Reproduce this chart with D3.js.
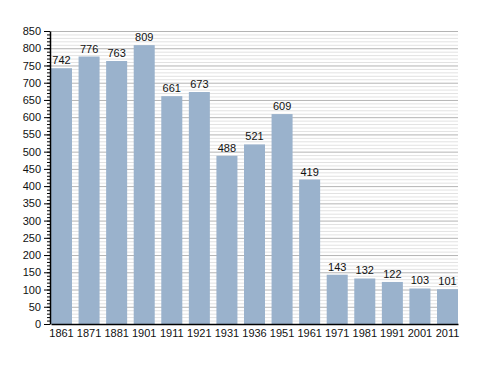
<!DOCTYPE html>
<html>
<head>
<meta charset="utf-8">
<script src="https://cdn.jsdelivr.net/npm/d3@7"></script>
<style>
body { margin: 0; background: #fff; }
svg { display: block; font-family: "Liberation Sans", Arial, sans-serif; }
</style>
</head>
<body>
<div id="chart"></div>
<script>
var years = ["1861", "1871", "1881", "1901", "1911", "1921", "1931", "1936", "1951", "1961", "1971", "1981", "1991", "2001", "2011"];
var population = [742, 776, 763, 809, 661, 673, 488, 521, 609, 419, 143, 132, 122, 103, 101];
var yTicks = d3.range(0, 851, 50);

var margin = { top: 31, right: 30, bottom: 49, left: 50 },
    width = 488 - margin.left - margin.right,
    height = 373 - margin.top - margin.bottom;

var svg = d3.select("#chart")
    .append("svg")
    .attr("width", 488)
    .attr("height", 373)
    .append("g")
    .attr("transform", `translate(${margin.left},${margin.top})`);

var x = d3.scaleBand()
    .domain(years)
    .range([1, width])
    .paddingInner(0.238)
    .paddingOuter(0);

var y = d3.scaleLinear()
    .domain([0, 850])
    .range([height, 0]);

// minor grid every 10
svg.append("g")
    .selectAll("line")
    .data(d3.range(10, 851, 10).filter(function (d) { return d % 50 != 0; }))
    .enter().append("line")
    .attr("x1", 0).attr("x2", width)
    .attr("y1", function (d) { return y(d) + 0.5; })
    .attr("y2", function (d) { return y(d) + 0.5; })
    .attr("stroke", "#e2e2e2");

// major grid every 50
svg.append("g")
    .selectAll("line")
    .data(yTicks.slice(1))
    .enter().append("line")
    .attr("x1", 0).attr("x2", width)
    .attr("y1", function (d) { return y(d) + 0.5; })
    .attr("y2", function (d) { return y(d) + 0.5; })
    .attr("stroke", "#b4b4b4");

// Bars
var bar = svg.selectAll(".bar")
    .data(population)
    .enter()
    .append("g");

bar.append("rect")
    .attr("x", function (d, i) { return x(years[i]); })
    .attr("width", x.bandwidth())
    .attr("y", function (d) { return y(d); })
    .attr("height", function (d) { return height - y(d); })
    .style("fill", "#9ab2cc");

bar.append("text")
    .attr("x", function (d, i) { return x(years[i]) + x.bandwidth() / 2; })
    .attr("y", function (d) { return y(d) - 4; })
    .attr("text-anchor", "middle")
    .style("font-size", "11px")
    .style("fill", "#111")
    .text(function (d) { return d; });

// Y axis, minor ticks then major
svg.append("g")
    .call(d3.axisLeft(y).tickValues(d3.range(0, 851, 10)).tickSize(3).tickFormat(""))
    .call(function (g) { g.select(".domain").remove(); })
    .selectAll("line").attr("stroke", "#000");

svg.append("g")
    .call(d3.axisLeft(y).tickValues(yTicks).tickSize(6).tickSizeOuter(0).tickPadding(3))
    .call(function (g) {
        g.selectAll("text").style("font-size", "11px").style("fill", "#111");
        g.select(".domain").attr("stroke", "#000").attr("stroke-width", 1.5);
    });

// X axis
svg.append("g")
    .attr("transform", `translate(0,${height})`)
    .call(d3.axisBottom(x).tickSize(0).tickSizeOuter(0).tickPadding(5))
    .call(function (g) {
        g.select(".domain").attr("stroke", "#000").attr("stroke-width", 1.5);
        g.selectAll("text").style("font-size", "11px").style("fill", "#111");
    });
</script>
</body>
</html>
